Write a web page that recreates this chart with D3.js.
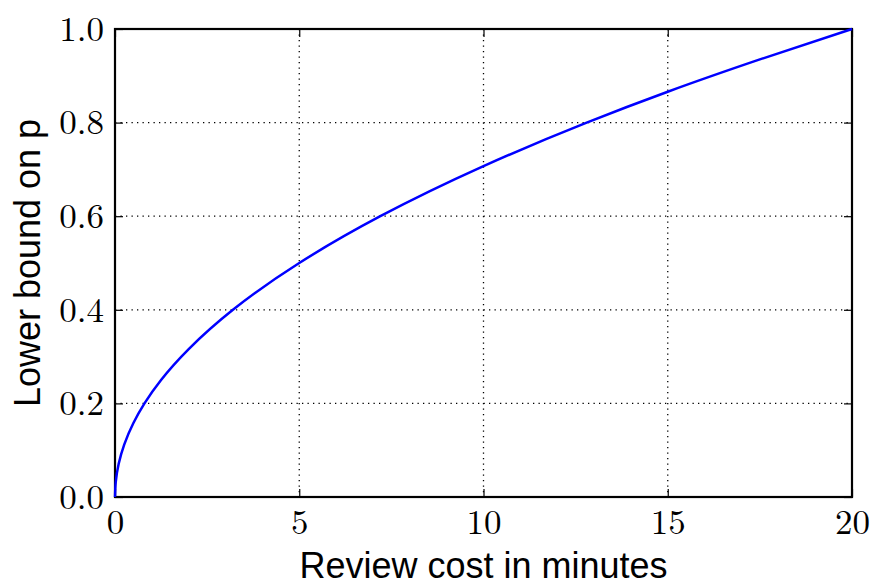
<!DOCTYPE html>
<html>
<head>
<meta charset="utf-8">
<script src="https://cdn.jsdelivr.net/npm/d3@7"></script>
<style>
  body { margin: 0; background: #fff; }
  svg { display: block; }
</style>
</head>
<body>
<svg width="871" height="584"></svg>
<script>
// values
const costMinutes = [0, 0.02, 0.1, 0.25, 0.5, 0.8, 1.25, 2, 3.2, 5, 7.2, 10, 12.8, 15, 17.5, 20];
const lowerBound = [0, 0.032, 0.071, 0.112, 0.158, 0.2, 0.25, 0.316, 0.4, 0.5, 0.6, 0.707, 0.8, 0.866, 0.935, 1.0];
const xTicks = [0, 5, 10, 15, 20];
const yTicks = [0, 0.2, 0.4, 0.6, 0.8, 1.0];

const data = costMinutes.map((c, i) => ({ x: c, y: lowerBound[i] }));

const svg = d3.select("svg");
const area = { left: 115, right: 852, top: 29, bottom: 497 };

const scaleX = d3.scaleLinear().domain([0, 20]).range([area.left, area.right]);
const scaleY = d3.scaleLinear().domain([0, 1]).range([area.bottom, area.top]);

const tickFont = "'Latin Modern Roman', 'CMU Serif', 'DejaVu Serif', serif";
const labelFont = "'Liberation Sans', Arial, sans-serif";

// grid
svg.append("g")
    .selectAll("line")
    .data(xTicks.slice(1, -1))
    .enter()
    .append("line")
    .attr("x1", (d) => scaleX(d))
    .attr("x2", (d) => scaleX(d))
    .attr("y1", area.top)
    .attr("y2", area.bottom)
    .attr("stroke", "#000")
    .attr("stroke-width", 1.3)
    .attr("stroke-dasharray", "1.3,4.2");

svg.append("g")
    .selectAll("line")
    .data(yTicks.slice(1, -1))
    .enter()
    .append("line")
    .attr("x1", area.left)
    .attr("x2", area.right)
    .attr("y1", (d) => scaleY(d))
    .attr("y2", (d) => scaleY(d))
    .attr("stroke", "#000")
    .attr("stroke-width", 1.3)
    .attr("stroke-dasharray", "1.3,4.2");

// axes (ticks inside)
const axisX = d3.axisBottom(scaleX).tickValues(xTicks).tickSize(-8).tickPadding(12).tickFormat(d3.format("d"));
const axisY = d3.axisLeft(scaleY).tickValues(yTicks).tickSize(-8).tickPadding(11).tickFormat(d3.format(".1f"));

const gx = svg.append("g").attr("transform", `translate(0, ${area.bottom})`).call(axisX);
const gy = svg.append("g").attr("transform", `translate(${area.left}, 0)`).call(axisY);
const gxTop = svg.append("g").attr("transform", `translate(0, ${area.top})`)
    .call(d3.axisTop(scaleX).tickValues(xTicks).tickSize(-8).tickFormat(""));
const gyRight = svg.append("g").attr("transform", `translate(${area.right}, 0)`)
    .call(d3.axisRight(scaleY).tickValues(yTicks).tickSize(-8).tickFormat(""));

[gx, gy, gxTop, gyRight].forEach((g) => {
    g.select(".domain").remove();
    g.selectAll(".tick line").attr("stroke", "#000").attr("stroke-width", 1.2);
    g.selectAll("text")
        .style("font-family", tickFont)
        .style("font-size", "35px")
        .attr("fill", "#000");
});

// frame
svg.append("rect")
    .attr("x", area.left)
    .attr("y", area.top)
    .attr("width", area.right - area.left)
    .attr("height", area.bottom - area.top)
    .attr("fill", "none")
    .attr("stroke", "#000")
    .attr("stroke-width", 2.2);

// curve
const line = d3.line()
    .x((d) => scaleX(d.x))
    .y((d) => scaleY(d.y))
    .curve(d3.curveMonotoneY);

svg.append("path")
    .datum(data)
    .attr("d", line)
    .attr("fill", "none")
    .attr("stroke", "#0000ff")
    .attr("stroke-width", 2.5);

// labels
svg.append("text")
    .attr("x", (area.left + area.right) / 2)
    .attr("y", 578)
    .attr("text-anchor", "middle")
    .style("font-family", labelFont)
    .style("font-size", "36px")
    .text("Review cost in minutes");

svg.append("text")
    .attr("transform", `translate(40, ${(area.top + area.bottom) / 2}) rotate(-90)`)
    .attr("text-anchor", "middle")
    .style("font-family", labelFont)
    .style("font-size", "36px")
    .text("Lower bound on p");
</script>
</body>
</html>
